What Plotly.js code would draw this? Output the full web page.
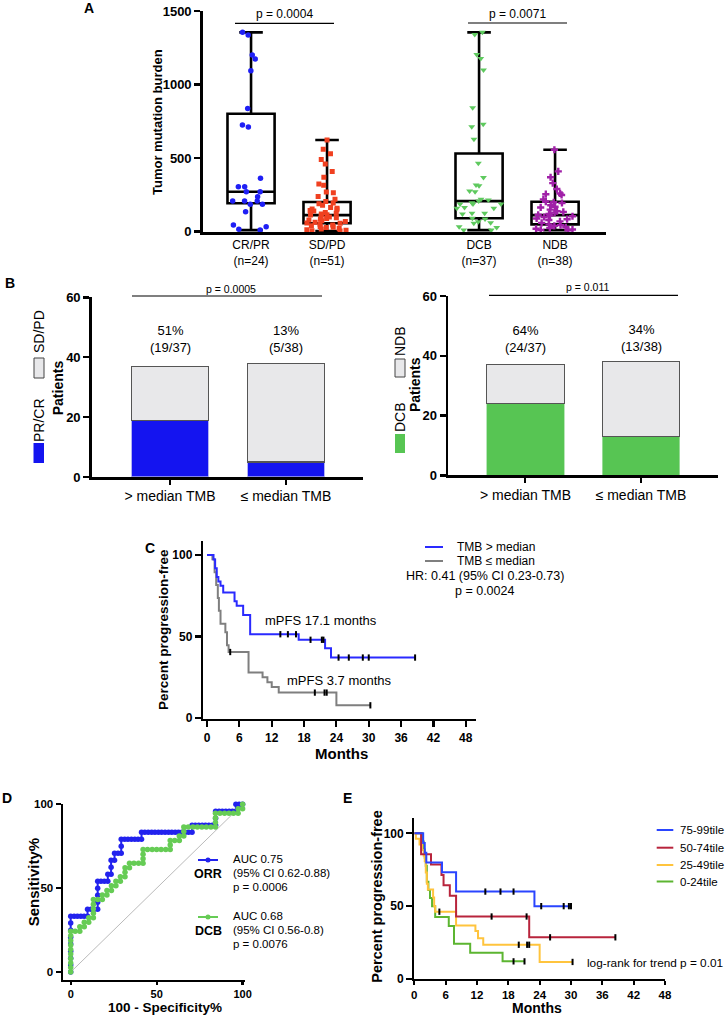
<!DOCTYPE html>
<html><head><meta charset="utf-8">
<script src="https://cdn.plot.ly/plotly-3.0.1.min.js"></script>
<style>html,body{margin:0;padding:0;background:#fff;}#chart{width:727px;height:1016px;}</style>
</head><body><div id="chart"></div>
<script>
// ---------- Panel A data ----------
const aGroups = ['CR/PR', 'SD/PD', 'DCB', 'NDB'];
const aTickText = ['CR/PR<br>(n=24)', 'SD/PD<br>(n=51)', 'DCB<br>(n=37)', 'NDB<br>(n=38)'];
const aPos = [1, 2, 4, 5];
const crpr = [1355,1337,1201,1174,1094,838,725,711,363,306,306,272,272,238,208,208,208,186,186,136,45,34,16,11];
const sdpd = [623,560,530,490,460,410,370,325,315,270,265,240,220,205,195,190,180,165,160,155,150,145,140,130,125,120,115,113,105,100,95,90,85,80,75,70,65,60,57,50,45,40,35,30,28,22,18,14,10,7,5];
const dcb = [1355,1340,1205,1178,1099,843,730,714,628,465,369,317,313,277,272,220,215,208,197,188,188,188,165,159,159,125,125,120,91,86,68,61,57,34,29,11,11];
const ndb = [557,410,370,330,290,260,255,250,220,205,200,195,180,170,165,150,140,135,130,120,115,110,105,100,90,85,80,70,60,50,45,40,30,25,20,15,12,10];
const boxQ1 = [193, 57, 91, 50];
const boxMed = [272, 113, 208, 113];
const boxQ3 = [802, 202, 532, 204];
const boxMin = [11, 5, 11, 11];
const boxMax = [1355, 623, 1355, 557];

// ---------- Panel B data ----------
const bPos = [0, 1];
const bTickText = ['> median TMB', '≤ median TMB'];
const orrResp = [19, 5];
const orrNon = [18, 33];
const dcbResp = [24, 13];
const dcbNon = [13, 25];
const orrPct = ['51%<br>(19/37)', '13%<br>(5/38)'];
const dcbPct = ['64%<br>(24/37)', '34%<br>(13/38)'];

// ---------- Panel C data ----------
const cHiT = [0, 1.2, 1.5, 1.8, 2.1, 2.5, 3.0, 5.1, 5.5, 6.7, 8.0, 17.0, 21.9, 23.0, 38.6];
const cHiS = [100, 97.3, 91.9, 86.5, 83.8, 81.1, 77, 71.6, 68.9, 63.2, 51.4, 48, 42.8, 37.1, 37.1];
const cHiCensT = [13.6, 15.0, 16.5, 19.2, 21.3, 21.6, 24.4, 26.3, 28.9, 30.0, 38.6];
const cHiCensS = [51.4, 51.4, 51.4, 48, 48, 48, 37.1, 37.1, 37.1, 37.1, 37.1];
const cLoT = [0, 1.0, 1.4, 1.7, 2.0, 2.2, 2.5, 3.4, 3.7, 4.0, 7.7, 10.3, 11.2, 12.0, 13.3, 24.0, 30.3];
const cLoS = [100, 97.4, 89.5, 81.6, 73.7, 65.8, 57.9, 52.6, 44.7, 40.5, 28, 25, 22, 19, 15.6, 7.8, 7.8];
const cLoCensT = [4.3, 20.0, 21.8, 22.2, 30.3];
const cLoCensS = [40.5, 15.6, 15.6, 15.6, 7.8];
const monthTicks = [0, 6, 12, 18, 24, 30, 36, 42, 48];

// ---------- Panel D data ----------
const orrFpr = [0,0,0,0,0,0,0,0,0, 2,3.9,5.9,7.8,9.8, 9.8,11.8,13.7,15.7, 15.7,15.7,15.7,15.7, 17.6,19.6,21.6,
  21.6,23.5,23.5,23.5,25.5,25.5,27.5,29.4, 29.4,29.4, 31.4,33.3,35.3,37.3,39.2,41.2,
  41.2,43.1,45.1,47.1,49,51,52.9,54.9,56.9,58.8,60.8,62.7,64.7,66.7,68.6,70.6,
  70.6,72.5,74.5,76.5,78.4,80.4,82.4,84.3, 84.3,84.3, 86.3,88.2,90.2,92.2,94.1,96.1, 96.1,98,100];
const orrTpr = [0,4.2,8.3,12.5,16.7,20.8,25,29.2,33.3, 33.3,33.3,33.3,33.3,33.3, 37.5,37.5,37.5,37.5, 41.7,45.8,50,54.2, 54.2,54.2,54.2,
  58.3,58.3,62.5,66.7,66.7,70.8,70.8,70.8, 75,79.2, 79.2,79.2,79.2,79.2,79.2,79.2,
  83.3,83.3,83.3,83.3,83.3,83.3,83.3,83.3,83.3,83.3,83.3,83.3,83.3,83.3,83.3,83.3,
  87.5,87.5,87.5,87.5,87.5,87.5,87.5,87.5, 91.7,95.8, 95.8,95.8,95.8,95.8,95.8,95.8, 100,100,100];
const dcbFpr = [0,0,0,0,0,0,0,0,0,0, 2.6,5.3, 5.3,7.9,7.9,10.5,10.5,13.2, 13.2,13.2,13.2,13.2,
  15.8,18.4,18.4,21.1,21.1,23.7,23.7,26.3,26.3,28.9,28.9,31.6,31.6,31.6,34.2,34.2,36.8,39.5,42.1,
  42.1,42.1,42.1, 44.7,47.4,50,52.6,55.3,57.9, 57.9,57.9,60.5,63.2,63.2,65.8,65.8,65.8,
  68.4,71.1,73.7,76.3,78.9,81.6,84.2, 84.2,84.2,84.2, 86.8,89.5,92.1,94.7,97.4, 97.4,100,100];
const dcbTpr = [0,2.7,5.4,8.1,10.8,13.5,16.2,18.9,21.6,24.3, 24.3,24.3, 27,27,29.7,29.7,32.4,32.4, 35.1,37.8,40.5,43.2,
  43.2,43.2,45.9,45.9,48.6,48.6,51.4,51.4,54.1,54.1,56.8,56.8,59.5,62.2,62.2,64.9,64.9,64.9,64.9,
  67.6,70.3,73, 73,73,73,73,73,73, 75.7,78.4,78.4,78.4,81.1,81.1,83.8,86.5,
  86.5,86.5,86.5,86.5,86.5,86.5,86.5, 89.2,91.9,94.6, 94.6,94.6,94.6,94.6,94.6, 97.3,97.3,100];
const diagX = [0, 100];
const diagY = [0, 100];

// ---------- Panel E data ----------
const eNames = ['75-99tile', '50-74tile', '25-49tile', '0-24tile'];
const eColors = ['#2a45ff', '#b8243c', '#ffc43d', '#5cb531'];
const e75T = [0, 1.7, 2.0, 2.3, 5.3, 8.0, 23.0, 30.0];
const e75S = [100, 93.3, 86.7, 80, 73.3, 60, 50, 50];
const e75CensT = [13.6, 16.5, 19.0, 24.3, 28.6, 29.6, 30.0];
const e75CensS = [60, 60, 60, 50, 50, 50, 50];
const e50T = [0, 1.3, 3.2, 5.2, 5.6, 6.8, 8.0, 22.0, 38.5];
const e50S = [100, 85.7, 78.6, 71.4, 64.3, 57.1, 42.9, 28.6, 28.6];
const e50CensT = [14.8, 21.5, 26.0, 38.5];
const e50CensS = [42.9, 42.9, 28.6, 28.6];
const e25T = [0, 0.3, 1.0, 1.5, 1.8, 2.0, 2.2, 2.4, 2.6, 3.6, 3.8, 4.0, 8.0, 11.7, 12.2, 13.2, 24.0, 30.3];
const e25S = [100, 96.2, 92.3, 88.5, 84.6, 80.8, 73.1, 65.4, 61.5, 56, 50, 46.2, 36.8, 33, 28, 23.5, 11.7, 11.7];
const e25CensT = [4.8, 20.0, 21.6, 22.0, 30.3];
const e25CensS = [46.2, 23.5, 23.5, 23.5, 11.7];
const e0T = [0, 1.5, 1.8, 2.0, 2.2, 2.4, 2.7, 3.0, 3.4, 4.0, 6.6, 7.6, 10.7, 16.9, 21.1];
const e0S = [100, 94.4, 88.9, 83.3, 77.8, 66.7, 61.1, 55.6, 50, 42.6, 36.3, 24.2, 18, 12.1, 12.1];
const e0CensT = [19.0, 21.1];
const e0CensS = [12.1, 12.1];

// ---------- helpers ----------
const W = 727, H = 1016;
const X = v => v / W, Y = v => 1 - v / H;
const FONT = 'Liberation Sans, Arial, Helvetica, sans-serif';
function T(text, x, y, o) {
  return Object.assign({text: text, x: X(x), y: Y(y), xref: 'paper', yref: 'paper', showarrow: false,
    xanchor: 'center', yanchor: 'middle', font: {family: FONT, size: 12, color: '#000'}}, o || {});
}
function B(text, x, y, size, o) {
  return T(text, x, y, Object.assign({font: {family: FONT, size: size, color: '#000', weight: 'bold'}}, o || {}));
}
function L(x0, y0, x1, y1, color, width) {
  return {type: 'line', xref: 'paper', yref: 'paper', x0: X(x0), y0: Y(y0), x1: X(x1), y1: Y(y1),
    line: {color: color, width: width}};
}
function R(x0, y0, x1, y1, fill, lc, lw) {
  return {type: 'rect', xref: 'paper', yref: 'paper', x0: X(x0), y0: Y(y1), x1: X(x1), y1: Y(y0),
    fillcolor: fill, line: {color: lc, width: lw}};
}
function ax(extra) {
  return Object.assign({showline: true, linecolor: '#000', linewidth: 2.5, ticks: 'outside', tickcolor: '#000',
    tickwidth: 2.5, ticklen: 6, showgrid: false, zeroline: false, fixedrange: true,
    tickfont: {family: FONT, size: 12, color: '#000', weight: 'bold'}}, extra);
}

const traces = [];
// ---------- A: boxes ----------
const aVals = [crpr, sdpd, dcb, ndb];
const aColors = ['#1f1ff5', '#f04020', '#5ec95e', '#a020a8'];
const aSymbols = ['circle', 'square', 'triangle-down', 'cross'];
const aSizes = [5.5, 5, 6, 6];
for (let i = 0; i < 4; i++) {
  traces.push({type: 'box', xaxis: 'x', yaxis: 'y', x: [aPos[i]], q1: [boxQ1[i]], median: [boxMed[i]],
    q3: [boxQ3[i]], lowerfence: [boxMin[i]], upperfence: [boxMax[i]], width: 0.62, whiskerwidth: 0.5,
    line: {color: '#000', width: 2.6}, fillcolor: 'rgba(255,255,255,0)', boxpoints: false, hoverinfo: 'skip'});
}
for (let i = 0; i < 4; i++) {
  traces.push({type: 'box', xaxis: 'x', yaxis: 'y', y: aVals[i], x0: aPos[i], name: aGroups[i], width: 0.66,
    boxpoints: 'all', jitter: 1, pointpos: 0, line: {width: 0, color: 'rgba(0,0,0,0)'},
    fillcolor: 'rgba(0,0,0,0)', marker: {symbol: aSymbols[i], size: aSizes[i], color: aColors[i]}, hoverinfo: 'y'});
}
// ---------- B: bars ----------
traces.push({type: 'bar', xaxis: 'x2', yaxis: 'y2', x: bPos, y: orrResp, width: 0.66,
  marker: {color: '#1414f0', line: {color: '#a0a0f0', width: 0.8}}});
traces.push({type: 'bar', xaxis: 'x2', yaxis: 'y2', x: bPos, y: orrNon, width: 0.66,
  marker: {color: '#e8e8ea', line: {color: '#555', width: 1.2}}});
traces.push({type: 'bar', xaxis: 'x3', yaxis: 'y3', x: bPos, y: dcbResp, width: 0.67,
  marker: {color: '#57c553', line: {color: '#a8e0a8', width: 0.8}}});
traces.push({type: 'bar', xaxis: 'x3', yaxis: 'y3', x: bPos, y: dcbNon, width: 0.67,
  marker: {color: '#e8e8ea', line: {color: '#555', width: 1.2}}});
// ---------- C: KM ----------
const cens = (x, y, xa, ya) => ({type: 'scatter', mode: 'markers', x: x, y: y, xaxis: xa, yaxis: ya, cliponaxis: false,
  marker: {symbol: 'line-ns', size: 4.5, color: '#000', line: {color: '#000', width: 2}}, hoverinfo: 'skip'});
traces.push({type: 'scatter', mode: 'lines', x: cLoT, y: cLoS, xaxis: 'x4', yaxis: 'y4', cliponaxis: false,
  line: {shape: 'hv', color: '#7f7f7f', width: 2}});
traces.push({type: 'scatter', mode: 'lines', x: cHiT, y: cHiS, xaxis: 'x4', yaxis: 'y4', cliponaxis: false,
  line: {shape: 'hv', color: '#2a2aff', width: 2}});
traces.push(cens(cHiCensT, cHiCensS, 'x4', 'y4'));
traces.push(cens(cLoCensT, cLoCensS, 'x4', 'y4'));
// ---------- D: ROC ----------
traces.push({type: 'scatter', mode: 'lines', x: diagX, y: diagY, xaxis: 'x5', yaxis: 'y5',
  line: {color: '#a8a8a8', width: 0.8}, hoverinfo: 'skip'});
traces.push({type: 'scatter', mode: 'lines+markers', x: orrFpr, y: orrTpr, xaxis: 'x5', yaxis: 'y5', cliponaxis: false,
  line: {color: '#2222ee', width: 2}, marker: {size: 5.5, color: '#2222ee'}});
traces.push({type: 'scatter', mode: 'lines+markers', x: dcbFpr, y: dcbTpr, xaxis: 'x5', yaxis: 'y5', cliponaxis: false,
  line: {color: '#66cc55', width: 2}, marker: {size: 5.5, color: '#66cc55'}});
// ---------- E: KM by quartile ----------
const eT = [e75T, e50T, e25T, e0T], eS = [e75S, e50S, e25S, e0S];
const eCT = [e75CensT, e50CensT, e25CensT, e0CensT], eCS = [e75CensS, e50CensS, e25CensS, e0CensS];
for (let i = 3; i >= 0; i--) {
  traces.push({type: 'scatter', mode: 'lines', name: eNames[i], x: eT[i], y: eS[i], xaxis: 'x6', yaxis: 'y6',
    cliponaxis: false, line: {shape: 'hv', color: eColors[i], width: 2}});
}
for (let i = 0; i < 4; i++) traces.push(cens(eCT[i], eCS[i], 'x6', 'y6'));

// ---------- annotations & shapes ----------
const ann = [], shp = [];
// letters
ann.push(B('A', 89, 8, 14), B('B', 10, 283, 14), B('C', 150, 548, 14), B('D', 7, 798, 14), B('E', 347, 798, 14));
// A
ann.push(B('Tumor mutation burden', 157, 122, 13, {textangle: -90}));
ann.push(T('p = 0.0004', 284.5, 14, {font: {family: FONT, size: 12, color: '#000'}}));
ann.push(T('p = 0.0071', 517.5, 14, {font: {family: FONT, size: 12, color: '#000'}}));
shp.push(L(235, 23.3, 334, 23.3, '#000', 1.2), L(468, 23, 567, 23, '#000', 1.2));
// B left
ann.push(T(orrPct[0], 170, 339.5, {font: {family: FONT, size: 13, color: '#000'}}));
ann.push(T(orrPct[1], 286, 339.5, {font: {family: FONT, size: 13, color: '#000'}}));
ann.push(T('p = 0.0005', 231, 289.3, {font: {family: FONT, size: 10.5, color: '#000'}}));
shp.push(L(132, 296, 322, 296, '#000', 1.2));
ann.push(B('Patients', 58.3, 388, 14, {textangle: -90}));
ann.push(T('PR/CR', 39, 420, {textangle: -90, font: {family: FONT, size: 14, color: '#000'}}));
ann.push(T('SD/PD', 39, 332, {textangle: -90, font: {family: FONT, size: 14, color: '#000'}}));
shp.push(R(33.5, 443, 44, 463, '#1414f0', '#1414f0', 0), R(34, 358, 44, 378, '#e8e8ea', '#444', 1));
// B right
ann.push(T(dcbPct[0], 525.5, 339, {font: {family: FONT, size: 13, color: '#000'}}));
ann.push(T(dcbPct[1], 641, 338, {font: {family: FONT, size: 13, color: '#000'}}));
ann.push(T('p = 0.011', 587.5, 287.3, {font: {family: FONT, size: 10.5, color: '#000'}}));
shp.push(L(489, 295.3, 678, 295.3, '#000', 1.2));
ann.push(B('Patients', 415, 385, 14, {textangle: -90}));
ann.push(T('DCB', 400, 417, {textangle: -90, font: {family: FONT, size: 14, color: '#000'}}));
ann.push(T('NDB', 400, 341, {textangle: -90, font: {family: FONT, size: 14, color: '#000'}}));
shp.push(R(395, 434, 405, 453, '#57c553', '#57c553', 0), R(395, 359, 405, 377, '#e8e8ea', '#444', 1));
// C
ann.push(B('Percent progression-free', 163, 630, 13.5, {textangle: -90}));
ann.push(B('Months', 341.7, 753, 15));
ann.push(T('mPFS 17.1 months', 262.7, 620, {xanchor: 'left', font: {family: FONT, size: 13, color: '#000'}}));
ann.push(T('mPFS 3.7 months', 285, 680.5, {xanchor: 'left', font: {family: FONT, size: 13, color: '#000'}}));
shp.push(L(425, 547, 443, 547, '#2a2aff', 2), L(425, 561, 443, 561, '#7f7f7f', 2));
ann.push(T('TMB > median', 455, 547, {xanchor: 'left', font: {family: FONT, size: 12, color: '#000'}}));
ann.push(T('TMB ≤ median', 455, 561, {xanchor: 'left', font: {family: FONT, size: 12, color: '#000'}}));
ann.push(T('HR: 0.41 (95% CI 0.23-0.73)', 404, 575.5, {xanchor: 'left', font: {family: FONT, size: 12.5, color: '#000'}}));
ann.push(T('p = 0.0024', 453, 590.5, {xanchor: 'left', font: {family: FONT, size: 12.5, color: '#000'}}));
// D
ann.push(B('Sensitivity%', 33.3, 882, 15, {textangle: -90}));
ann.push(B('100 - Specificity%', 165, 1007.5, 13.5));
shp.push(L(198, 860, 218, 860, '#2222ee', 2), L(198, 917, 218, 917, '#66cc55', 2));
shp.push({type: 'circle', xref: 'paper', yref: 'paper', x0: X(205.5), x1: X(210.5), y0: Y(862.5), y1: Y(857.5), fillcolor: '#2222ee', line: {width: 0}});
shp.push({type: 'circle', xref: 'paper', yref: 'paper', x0: X(205.5), x1: X(210.5), y0: Y(919.5), y1: Y(914.5), fillcolor: '#66cc55', line: {width: 0}});
ann.push(B('ORR', 208, 874, 12.5), B('DCB', 208, 931, 12.5));
const dTxt = (t, y) => T(t, 231, y, {xanchor: 'left', font: {family: FONT, size: 11.5, color: '#000'}});
ann.push(dTxt('AUC 0.75', 859), dTxt('(95% CI 0.62-0.88)', 873), dTxt('p = 0.0006', 887));
ann.push(dTxt('AUC 0.68', 916), dTxt('(95% CI 0.56-0.8)', 930), dTxt('p = 0.0076', 944));
// E
ann.push(B('Percent progression-free', 376.7, 897, 14.5, {textangle: -90}));
ann.push(B('Months', 536.7, 1007.5, 14));
const eLegY = [830, 847.7, 865, 881.5];
for (let i = 0; i < 4; i++) {
  shp.push(L(656.7, eLegY[i], 673.3, eLegY[i], eColors[i], 2));
  ann.push(T(eNames[i], 678, eLegY[i], {xanchor: 'left', font: {family: FONT, size: 11.5, color: '#000'}}));
}
ann.push(T('log-rank for trend p = 0.01', 585, 963.3, {xanchor: 'left', font: {family: FONT, size: 11.8, color: '#000'}}));

const layout = {
  width: W, height: H, margin: {l: 0, r: 0, t: 0, b: 0}, paper_bgcolor: '#fff', plot_bgcolor: 'rgba(0,0,0,0)',
  showlegend: false, barmode: 'stack', boxmode: 'overlay', font: {family: FONT, color: '#000'},
  xaxis: ax({domain: [X(202.7), X(606)], range: [0.364, 5.67], anchor: 'y', tickvals: aPos, ticktext: aTickText,
    ticks: '', tickfont: {family: FONT, size: 12, color: '#000'}}),
  yaxis: ax({domain: [Y(232.3), Y(11)], range: [-4, 1500], anchor: 'x', tickvals: [0, 500, 1000, 1500],
    tickfont: {family: FONT, size: 13, color: '#000', weight: 'bold'}}),
  xaxis2: ax({domain: [X(91.7), X(363)], range: [-0.675, 1.664], anchor: 'y2', tickvals: bPos, ticktext: bTickText,
    ticklen: 5, tickwidth: 2, tickfont: {family: FONT, size: 14, color: '#000'}}),
  yaxis2: ax({domain: [Y(477), Y(297.3)], range: [0, 60], anchor: 'x2', tickvals: [0, 20, 40, 60],
    tickfont: {family: FONT, size: 13, color: '#000', weight: 'bold'}}),
  xaxis3: ax({domain: [X(448), X(718)], range: [-0.671, 1.667], anchor: 'y3', tickvals: bPos, ticktext: bTickText,
    ticklen: 5, tickwidth: 2, tickfont: {family: FONT, size: 14, color: '#000'}}),
  yaxis3: ax({domain: [Y(475.3), Y(296)], range: [0, 60], anchor: 'x3', tickvals: [0, 20, 40, 60],
    tickfont: {family: FONT, size: 13, color: '#000', weight: 'bold'}}),
  xaxis4: ax({domain: [X(203), X(476)], range: [-0.75, 49.9], anchor: 'y4', tickvals: monthTicks,
    linewidth: 2.2, tickwidth: 2.2}),
  yaxis4: ax({domain: [Y(719), Y(541)], range: [-0.6, 108.6], anchor: 'x4', tickvals: [0, 50, 100],
    linewidth: 2.2, tickwidth: 2.2}),
  xaxis5: ax({domain: [X(62.7), X(245)], range: [-4.65, 101.4], anchor: 'y5', tickvals: [0, 50, 100],
    linewidth: 2.2, tickwidth: 2.2, ticklen: 3, tickfont: {family: FONT, size: 11, color: '#000', weight: 'bold'}}),
  yaxis5: ax({domain: [Y(979.5), Y(804.3)], range: [-4.4, 100], anchor: 'x5', tickvals: [0, 50, 100],
    linewidth: 2.2, tickwidth: 2.2, ticklen: 5, tickfont: {family: FONT, size: 11.5, color: '#000', weight: 'bold'}}),
  xaxis6: ax({domain: [X(414.3), X(665)], range: [0, 48], anchor: 'y6', tickvals: monthTicks,
    linewidth: 2.2, tickwidth: 2.2, ticklen: 4, tickfont: {family: FONT, size: 11.5, color: '#000', weight: 'bold'}}),
  yaxis6: ax({domain: [Y(979), Y(818.3)], range: [0, 110.3], anchor: 'x6', tickvals: [0, 50, 100],
    linewidth: 2.2, tickwidth: 2.2}),
  annotations: ann, shapes: shp
};
Plotly.newPlot('chart', traces, layout, {staticPlot: true, displayModeBar: false});
</script></body></html>
